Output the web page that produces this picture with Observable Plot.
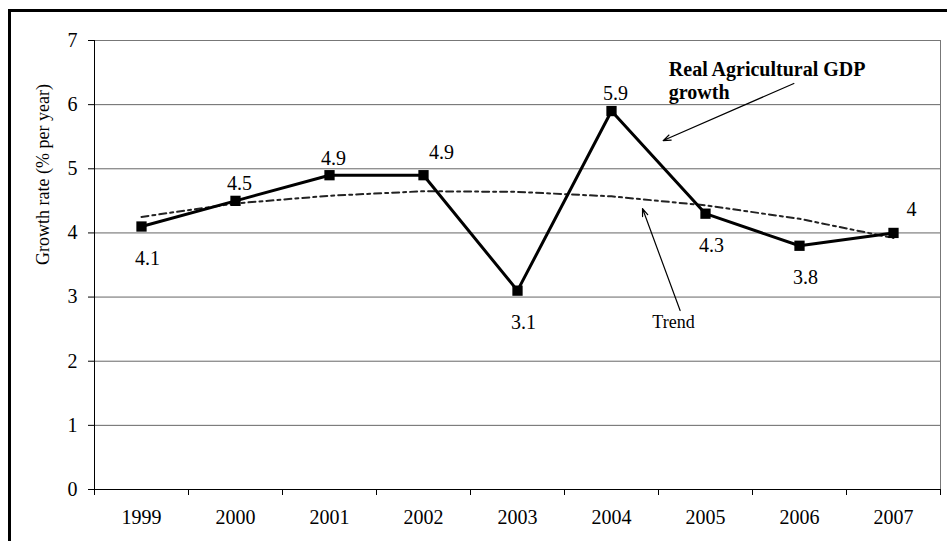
<!DOCTYPE html>
<html>
<head>
<meta charset="utf-8">
<script src="https://cdn.jsdelivr.net/npm/d3@7"></script>
<script src="https://cdn.jsdelivr.net/npm/@observablehq/plot@0.6"></script>
<style>
  html, body { margin: 0; padding: 0; background: #fff; overflow: hidden; }
  #wrap { position: relative; width: 947px; height: 541px; overflow: hidden; }
  #border { position: absolute; left: 8px; top: 9px; width: 1000px; height: 1000px;
            border-left: 3px solid #000; border-top: 3px solid #000; pointer-events: none; }
  #chart svg, #chart svg text { font-family: "Liberation Serif", "Times New Roman", serif !important; }
</style>
</head>
<body>
<div id="wrap"><div id="chart"></div><div id="border"></div></div>
<script>
// ---- data ----
const years = [1999, 2000, 2001, 2002, 2003, 2004, 2005, 2006, 2007];
const growth = [4.1, 4.5, 4.9, 4.9, 3.1, 5.9, 4.3, 3.8, 4.0];
const trend = [4.25, 4.46, 4.58, 4.65, 4.64, 4.57, 4.43, 4.22, 3.92];
const valueLabels = ["4.1", "4.5", "4.9", "4.9", "3.1", "5.9", "4.3", "3.8", "4"];
const labelPlacement = ["below", "above", "above", "right", "below", "above", "below", "below", "right"];
const yTicks = [0, 1, 2, 3, 4, 5, 6, 7];
const yTitle = "Growth rate (% per year)";
const seriesName = "Real Agricultural GDP\ngrowth";
const trendName = "Trend";
// annotation anchors (data space)
const seriesNote = {x: 2004.61, y: 6.385};
const seriesArrow = {x1: 2005.94, y1: 6.33, x2: 2004.55, y2: 5.44};
const trendNote = {x: 2004.66, y: 2.60};
const trendArrow = {x1: 2004.73, y1: 2.79, x2: 2004.33, y2: 4.38};

// ---- build ----
const rows = years.map((year, i) => ({year, value: growth[i], trend: trend[i], label: valueLabels[i], place: labelPlacement[i]}));
const offsets = {above: {dx: 4, dy: -17}, below: {dx: 6, dy: 32}, right: {dx: 18, dy: -23}};
const bounds = years.map(y => y - 0.5).concat([years[years.length - 1] + 0.5]);
const font = '"Liberation Serif", "Times New Roman", serif';

const labelMarks = Object.keys(offsets).map(p =>
  Plot.text(rows.filter(d => d.place === p), {
    x: "year", y: "value", text: "label",
    dx: offsets[p].dx, dy: offsets[p].dy,
    fontSize: 20, fill: "#000"
  })
);

const chart = Plot.plot({
  width: 947,
  height: 541,
  marginLeft: 94,
  marginRight: 7,
  marginTop: 40,
  marginBottom: 52,
  style: {fontFamily: font, fontSize: "20px", color: "#000", background: "transparent"},
  x: {type: "linear", domain: [bounds[0], bounds[bounds.length - 1]]},
  y: {domain: [0, 7]},
  marks: [
    Plot.gridY(yTicks.filter(t => t > 0), {stroke: "#666", strokeOpacity: 1}),
    Plot.frame({stroke: "#777"}),
    Plot.ruleX([bounds[0]], {stroke: "#000", strokeWidth: 1}),
    Plot.ruleY([0], {stroke: "#000", strokeWidth: 1}),
    Plot.axisY({ticks: yTicks, tickSize: 6, tickPadding: 11, tickFormat: d => String(d), fontSize: 20, label: null}),
    Plot.axisX({ticks: bounds, tickSize: 6, tickFormat: () => "", label: null}),
    Plot.axisX({ticks: years, tickSize: 0, tickPadding: 20, tickFormat: d => String(d), fontSize: 20, label: null}),
    Plot.text([yTitle], {frameAnchor: "left", rotate: -90, dx: -51, fontSize: 18, fill: "#000"}),
    Plot.line(rows, {x: "year", y: "trend", stroke: "#222", strokeWidth: 2, strokeDasharray: "7,4,3,4"}),
    Plot.line(rows, {x: "year", y: "value", stroke: "#000", strokeWidth: 3}),
    Plot.dot(rows, {x: "year", y: "value", symbol: "square", r: 5.8, fill: "#000", stroke: "none"}),
    ...labelMarks,
    Plot.text([seriesName], {x: () => seriesNote.x, y: () => seriesNote.y, textAnchor: "start", lineHeight: 1.15, fontWeight: "bold", fontSize: 20, fill: "#000"}),
    Plot.arrow([seriesArrow], {x1: "x1", y1: "y1", x2: "x2", y2: "y2", stroke: "#000", strokeWidth: 1.2, headLength: 10, headAngle: 40}),
    Plot.text([trendName], {x: () => trendNote.x, y: () => trendNote.y, fontSize: 18, fill: "#000"}),
    Plot.arrow([trendArrow], {x1: "x1", y1: "y1", x2: "x2", y2: "y2", stroke: "#000", strokeWidth: 1.2, headLength: 10, headAngle: 40})
  ]
});
document.getElementById("chart").appendChild(chart);
</script>
</body>
</html>
